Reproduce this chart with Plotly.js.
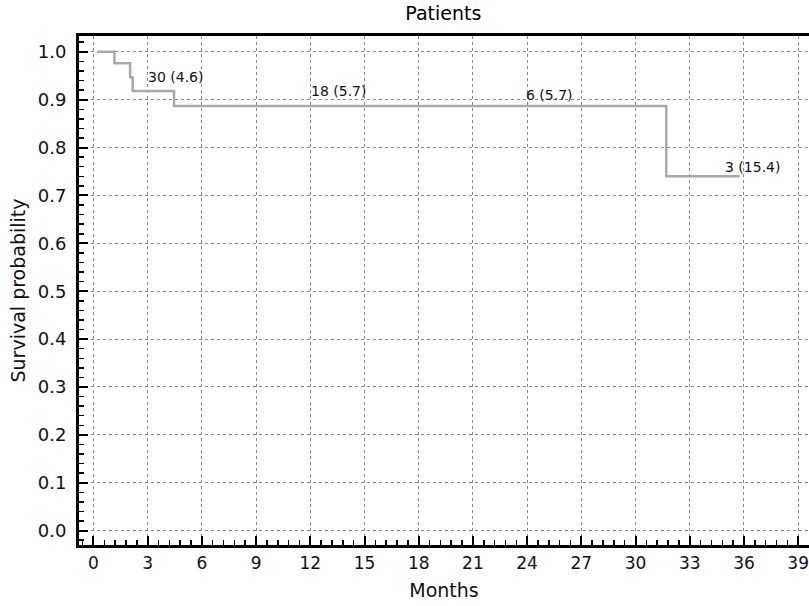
<!DOCTYPE html>
<html>
<head>
<meta charset="utf-8">
<script src="https://cdn.plot.ly/plotly-3.0.1.min.js"></script>
<style>html,body{margin:0;padding:0;background:#fff;}#chart{width:809px;height:606px;}</style>
</head>
<body>
<div id="chart"></div>
<script>
// Kaplan-Meier step curve (months, survival probability)
var months = [0.2, 1.16, 2.03, 2.17, 4.46, 31.7, 35.76];
var survival = [1.0, 0.976, 0.947, 0.918, 0.887, 0.740, 0.740];

// Number-at-risk labels
var riskLabels = ["30 (4.6)", "18 (5.7)", "6 (5.7)", "3 (15.4)"];
var riskX = [2.9, 11.95, 23.8, 34.85];
var riskY = [0.948, 0.919, 0.910, 0.760];

var xTicks = [0, 3, 6, 9, 12, 15, 18, 21, 24, 27, 30, 33, 36, 39];
var yTicks = [0.0, 0.1, 0.2, 0.3, 0.4, 0.5, 0.6, 0.7, 0.8, 0.9, 1.0];

var font = "DejaVu Sans, Arial, sans-serif";

var trace = {
  x: months, y: survival, type: "scatter", mode: "lines",
  line: {shape: "hv", color: "#a9a9a9", width: 2.5},
  hoverinfo: "skip", showlegend: false
};

var annotations = riskLabels.map(function (t, i) {
  return {x: riskX[i], y: riskY[i], xref: "x", yref: "y", text: t, showarrow: false,
    xanchor: "left", yanchor: "middle", font: {family: font, size: 14, color: "#111"}};
});

var layout = {
  width: 809, height: 606,
  margin: {l: 79, r: 0, t: 36, b: 61, pad: 0},
  paper_bgcolor: "#fff", plot_bgcolor: "#fff",
  title: {text: "Patients", font: {family: font, size: 19, color: "#000"}, x: 0.548, xanchor: "center", y: 0.978, yanchor: "middle"},
  font: {family: font, color: "#000"},
  xaxis: {
    range: [-0.8, 39.6], tickvals: xTicks, ticktext: xTicks.map(String),
    showline: true, linewidth: 3, linecolor: "#000", mirror: true,
    ticks: "inside", ticklen: 9, tickwidth: 2, tickcolor: "#000",
    tickfont: {family: font, size: 17, color: "#111"}, ticklabelstandoff: 1,
    ticklabeloverflow: "allow",
    showgrid: true, gridcolor: "#8a8a8a", gridwidth: 1, griddash: "3px,3px",
    zeroline: false,
    minor: {dtick: 0.6, tick0: 0, ticks: "inside", ticklen: 5, tickwidth: 1.5, tickcolor: "#000", showgrid: false},
    title: {text: "Months", font: {family: font, size: 19, color: "#111"}, standoff: 12}
  },
  yaxis: {
    range: [-0.03, 1.033], tickvals: yTicks, ticktext: yTicks.map(function (v) { return v.toFixed(1); }),
    showline: true, linewidth: 3, linecolor: "#000", mirror: false,
    ticks: "inside", ticklen: 9, tickwidth: 2, tickcolor: "#000",
    tickfont: {family: font, size: 18, color: "#111"}, ticklabelstandoff: 6,
    showgrid: true, gridcolor: "#8a8a8a", gridwidth: 1, griddash: "3px,3px",
    zeroline: false,
    minor: {dtick: 0.02, tick0: 0, ticks: "inside", ticklen: 5, tickwidth: 1.5, tickcolor: "#000", showgrid: false},
    title: {text: "Survival probability", font: {family: font, size: 19, color: "#111"}, standoff: 8}
  },
  annotations: annotations
};

Plotly.newPlot("chart", [trace], layout, {staticPlot: true, displayModeBar: false});
</script>
</body>
</html>
